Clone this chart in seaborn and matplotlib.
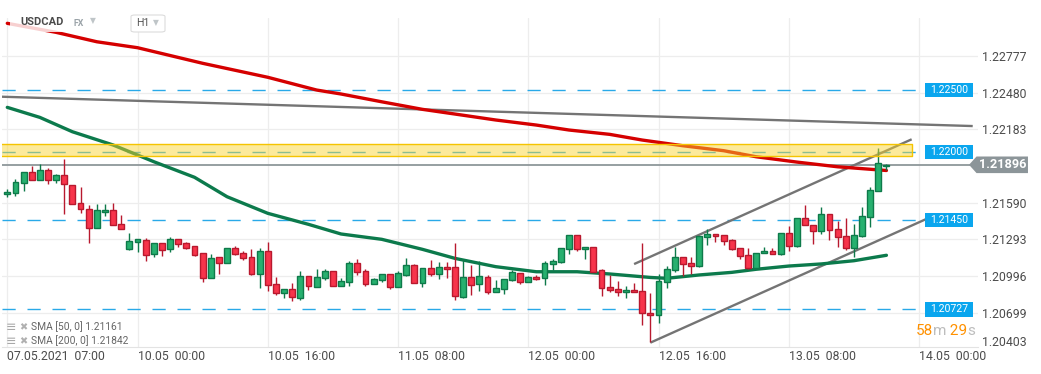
import numpy as np
import pandas as pd
import matplotlib
matplotlib.use("Agg")
import matplotlib.pyplot as plt
import matplotlib.transforms as mtransforms
from matplotlib.patches import Rectangle, Polygon, FancyBboxPatch
import seaborn as sns

# ---------------- data ----------------
opens = [1.21657, 1.21666, 1.21746, 1.21835, 1.21771, 1.21851, 1.21771, 1.21811, 1.21730, 1.21585,
         1.21536, 1.21383, 1.21512, 1.21528, 1.21415, 1.21213, 1.21270, 1.21286, 1.21173, 1.21262,
         1.21213, 1.21294, 1.21262, 1.21237, 1.21181, 1.20979, 1.21149, 1.21100, 1.21221, 1.21181,
         1.21149, 1.21011, 1.21197, 1.20930, 1.20858, 1.20890, 1.20817, 1.20995, 1.20906, 1.20979,
         1.21035, 1.20914, 1.20947, 1.21100, 1.21035, 1.20930, 1.20963, 1.21011, 1.20906, 1.21003,
         1.21084, 1.20939, 1.21060, 1.21011, 1.21068, 1.21068, 1.20825, 1.20987, 1.20930, 1.20987,
         1.20866, 1.20890, 1.20963, 1.21019, 1.20947, 1.20987, 1.20979, 1.21092, 1.21108, 1.21213,
         1.21326, 1.21213, 1.21229, 1.21044, 1.20906, 1.20890, 1.20866, 1.20882, 1.20874, 1.20696,
         1.20680, 1.20947, 1.21044, 1.21149, 1.21100, 1.21076, 1.21310, 1.21334, 1.21326, 1.21288,
         1.21224, 1.21165, 1.21060, 1.21181, 1.21197, 1.21173, 1.21342, 1.21237, 1.21464, 1.21407,
         1.21361, 1.21496, 1.21375, 1.21321, 1.21221, 1.21318, 1.21472, 1.21682, 1.21885]
highs = [1.21698, 1.21779, 1.21835, 1.21886, 1.21902, 1.21867, 1.21824, 1.21940, 1.21730, 1.21714,
         1.21569, 1.21577, 1.21577, 1.21585, 1.21488, 1.21342, 1.21294, 1.21302, 1.21262, 1.21262,
         1.21310, 1.21294, 1.21272, 1.21237, 1.21181, 1.21173, 1.21149, 1.21221, 1.21237, 1.21197,
         1.21213, 1.21221, 1.21270, 1.20987, 1.20890, 1.20939, 1.21035, 1.20995, 1.21052, 1.21052,
         1.21035, 1.20979, 1.21116, 1.21132, 1.21052, 1.20979, 1.21011, 1.21011, 1.21035, 1.21140,
         1.21092, 1.21060, 1.21124, 1.21108, 1.21108, 1.21262, 1.21132, 1.21084, 1.21116, 1.21003,
         1.20963, 1.20971, 1.21044, 1.21019, 1.20995, 1.21003, 1.21116, 1.21132, 1.21221, 1.21326,
         1.21326, 1.21229, 1.21229, 1.21052, 1.21003, 1.20955, 1.20914, 1.20939, 1.21262, 1.20858,
         1.21011, 1.21076, 1.21229, 1.21149, 1.21149, 1.21318, 1.21375, 1.21334, 1.21326, 1.21296,
         1.21224, 1.21224, 1.21181, 1.21232, 1.21224, 1.21342, 1.21401, 1.21464, 1.21569, 1.21407,
         1.21552, 1.21496, 1.21439, 1.21464, 1.21415, 1.21552, 1.21714, 1.22031, 1.21905]
lows = [1.21633, 1.21646, 1.21687, 1.21771, 1.21771, 1.21738, 1.21746, 1.21496, 1.21577, 1.21509,
        1.21266, 1.21383, 1.21480, 1.21407, 1.21375, 1.21205, 1.21189, 1.21116, 1.21149, 1.21157,
        1.21189, 1.21229, 1.21213, 1.21157, 1.20951, 1.20979, 1.21011, 1.21100, 1.21165, 1.21124,
        1.21003, 1.20898, 1.20879, 1.20842, 1.20817, 1.20798, 1.20801, 1.20882, 1.20906, 1.20963,
        1.20914, 1.20914, 1.20914, 1.21003, 1.20914, 1.20930, 1.20947, 1.20890, 1.20906, 1.20995,
        1.20939, 1.20906, 1.20995, 1.20971, 1.20979, 1.20801, 1.20817, 1.20842, 1.20874, 1.20850,
        1.20866, 1.20850, 1.20955, 1.20930, 1.20947, 1.20963, 1.20922, 1.21044, 1.21100, 1.21173,
        1.21197, 1.21132, 1.21027, 1.20838, 1.20866, 1.20834, 1.20817, 1.20866, 1.20599, 1.20462,
        1.20615, 1.20898, 1.21027, 1.20995, 1.21011, 1.21068, 1.21245, 1.21270, 1.21245, 1.21208,
        1.21135, 1.21052, 1.21060, 1.21181, 1.21173, 1.21165, 1.21197, 1.21229, 1.21407, 1.21254,
        1.21334, 1.21288, 1.21232, 1.21208, 1.21151, 1.21310, 1.21391, 1.21682, 1.21858]
closes = [1.21674, 1.21754, 1.21835, 1.21771, 1.21851, 1.21771, 1.21811, 1.21738, 1.21577, 1.21536,
          1.21383, 1.21528, 1.21528, 1.21407, 1.21375, 1.21278, 1.21294, 1.21165, 1.21262, 1.21205,
          1.21294, 1.21254, 1.21221, 1.21165, 1.20979, 1.21140, 1.21100, 1.21221, 1.21173, 1.21140,
          1.21011, 1.21197, 1.20922, 1.20858, 1.20890, 1.20825, 1.20995, 1.20914, 1.20987, 1.21035,
          1.20914, 1.20955, 1.21100, 1.21027, 1.20930, 1.20971, 1.21011, 1.20906, 1.21019, 1.21084,
          1.20939, 1.21060, 1.21011, 1.21068, 1.21052, 1.20834, 1.20987, 1.20922, 1.20995, 1.20866,
          1.20898, 1.20971, 1.21027, 1.20947, 1.20987, 1.20971, 1.21100, 1.21116, 1.21221, 1.21326,
          1.21213, 1.21229, 1.21027, 1.20898, 1.20882, 1.20866, 1.20882, 1.20866, 1.20696, 1.20680,
          1.20955, 1.21052, 1.21149, 1.21092, 1.21076, 1.21318, 1.21334, 1.21318, 1.21278, 1.21216,
          1.21157, 1.21060, 1.21181, 1.21197, 1.21173, 1.21342, 1.21237, 1.21464, 1.21407, 1.21361,
          1.21496, 1.21369, 1.21310, 1.21221, 1.21326, 1.21480, 1.21690, 1.21908, 1.21896]

sma50_idx = [0, 4, 8, 13, 18, 23, 27, 32, 37, 41, 46, 51, 55, 60, 65, 70, 74, 79, 81, 85, 89, 92, 96, 100, 104, 108]
sma50_val = [1.22360, 1.22279, 1.22163, 1.22056, 1.21921, 1.21795, 1.21638, 1.21504, 1.21415, 1.21337,
             1.21294, 1.21213, 1.21140, 1.21073, 1.21032, 1.21032, 1.21014, 1.20986, 1.20979, 1.21006,
             1.21027, 1.21052, 1.21078, 1.21095, 1.21121, 1.21165]
sma200_idx = [0, 6, 11, 16, 24, 32, 38, 41, 46, 51, 55, 60, 65, 69, 74, 78, 83, 88, 92, 97, 102, 108]
sma200_val = [1.23039, 1.22966, 1.22890, 1.22842, 1.22716, 1.22603, 1.22500, 1.22468, 1.22405, 1.22344,
              1.22306, 1.22258, 1.22217, 1.22177, 1.22142, 1.22096, 1.22050, 1.22010, 1.21961, 1.21918,
              1.21880, 1.21850]

price_levels = [1.22500, 1.22000, 1.21450, 1.20727]
price_level_labels = ["1.22500", "1.22000", "1.21450", "1.20727"]
current_price = 1.21896
zone_low, zone_high, zone_end = 1.21969, 1.22064, 111.1

trend_x = [-0.65, 118.6]
trend_y = [1.22446, 1.22209]
chan_low_x = [79.0, 113.1]
chan_low_y = [1.20459, 1.21464]
chan_up_x = [77.0, 111.1]
chan_up_y = [1.21094, 1.22102]

ytick_vals = [1.20699, 1.20996, 1.21293, 1.21590, 1.22183, 1.22480, 1.22777]
ytick_labels = ["1.20699", "1.20996", "1.21293", "1.21590", "1.22183", "1.22480", "1.22777"]
bottom_label = "1.20403"
xtick_idx = [0, 16, 32, 48, 64, 80, 96, 112]
xtick_labels = ["07.05.2021  07:00", "10.05  00:00", "10.05  16:00", "11.05  08:00",
                "12.05  00:00", "12.05  16:00", "13.05  08:00", "14.05  00:00"]
sma50_last, sma200_last = "1.21161", "1.21842"

# ---------------- style ----------------
sns.set_style("white")
plt.rcParams['font.family'] = ['Roboto', 'DejaVu Sans']

W, H = 1041, 374
fig = plt.figure(figsize=(W / 100, H / 100), dpi=100)
fig.patch.set_facecolor('white')
ax = fig.add_axes([2 / W, 27 / H, 976 / W, 329 / H])
ax.set_xlim(-0.65, 119.25)
ax.set_ylim(1.20424, 1.23082)

df = pd.DataFrame({'o': opens, 'h': highs, 'l': lows, 'c': closes})
df['idx'] = np.arange(len(df))
up = df['c'] >= df['o']

G_FILL, G_EDGE = '#27B06F', '#0E7A4A'
R_FILL, R_EDGE = '#F7344B', '#B8192E'

# grid
ax.set_yticks(ytick_vals)
ax.set_yticklabels(ytick_labels)
ax.set_xticks(xtick_idx)
ax.set_xticklabels(xtick_labels)
ax.grid(True, color='#EDEDED', lw=0.9, zorder=0)
ax.set_axisbelow(True)
for s in ['top', 'left', 'right']:
    ax.spines[s].set_visible(False)
ax.spines['bottom'].set_color('#E3E3E3')
ax.yaxis.tick_right()
ax.tick_params(axis='y', length=0, pad=3, labelsize=8.8, labelcolor='#4C4C4C')
ax.tick_params(axis='x', length=0, pad=2.5, labelsize=8.8, labelcolor='#4C4C4C')
for lbl in ax.get_xticklabels():
    lbl.set_ha('left')

blend = mtransforms.blended_transform_factory(ax.transAxes, ax.transData)

# horizontal price levels (dashed)
for p in price_levels:
    ax.plot([0, 0.942], [p, p], transform=blend, color='#29A9E8', lw=1.0,
            dashes=(9.5, 8.5), zorder=1)

# current price line
ax.axhline(current_price, color='#8E979A', lw=1.3, zorder=2)

# trend lines
for xs, ys in [(trend_x, trend_y), (chan_low_x, chan_low_y), (chan_up_x, chan_up_y)]:
    ax.plot(xs, ys, color='#747474', lw=1.7, zorder=3, solid_capstyle='butt')

# SMA lines via seaborn
d50 = pd.DataFrame({'idx': sma50_idx, 'v': sma50_val})
d200 = pd.DataFrame({'idx': sma200_idx, 'v': sma200_val})
sns.lineplot(data=d50, x='idx', y='v', ax=ax, color='#0C7A4C', lw=2.4, zorder=4, sort=True)
sns.lineplot(data=d200, x='idx', y='v', ax=ax, color='#D50000', lw=2.4, zorder=4, sort=True)
ax.set_xlabel('')
ax.set_ylabel('')

# candles
edge_cols = np.where(up, G_EDGE, R_EDGE)
fill_cols = np.where(up, G_FILL, R_FILL)
ax.vlines(df['idx'], df['l'], df['h'], colors=edge_cols, lw=1.0, zorder=5)
body_lo = np.minimum(df['o'], df['c'])
body_h = np.maximum(np.abs(df['c'] - df['o']), 0.000015)
ax.bar(df['idx'], body_h, bottom=body_lo, width=0.72, color=fill_cols,
       edgecolor=edge_cols, linewidth=1.0, zorder=6)

# resistance zone (on top, translucent)
ax.fill_between([-5, zone_end], zone_low, zone_high, color='#F9D42E', alpha=0.48,
                lw=0, zorder=7)
ax.plot([-5, zone_end, zone_end, -5], [zone_high, zone_high, zone_low, zone_low],
        color='#F5C400', lw=1.0, zorder=7)

# level labels
hh = 7.2 * (1.23082 - 1.20424) / 329
for p, t in zip(price_levels, price_level_labels):
    ax.add_patch(Rectangle((0.9457, p - hh), 0.0492, 2 * hh, transform=blend,
                           fc='#0AA6EE', ec='none', zorder=8, clip_on=False))
    ax.text(0.9703, p, t, transform=blend, ha='center', va='center',
            color='white', fontsize=7.6, zorder=9)

# current price label
h2 = 8.3 * (1.23082 - 1.20424) / 329
poly = Polygon([(0.9908, current_price), (0.9985, current_price + h2), (1.0512, current_price + h2),
                (1.0512, current_price - h2), (0.9985, current_price - h2)],
               closed=True, transform=blend, fc='#8C9599', ec='none', zorder=8, clip_on=False)
ax.add_patch(poly)
ax.text(1.0255, current_price, f"{current_price:.5f}", transform=blend, ha='center',
        va='center', color='white', fontsize=9.2, fontweight='bold', zorder=9, clip_on=False)

# bottom y label
ax.text(1.0 + 4 / 976, 5 / 329, bottom_label, transform=ax.transAxes, ha='left',
        va='center', color='#4C4C4C', fontsize=8.8)

# countdown
t1 = ax.text(915.5 / W, 1 - 335 / H, "58", transform=fig.transFigure, color='#FF9100',
             fontsize=11, va='baseline', zorder=9)
t2 = ax.annotate("m", xy=(1, 0), xycoords=t1, color='#BDBDBD', fontsize=11, va='bottom')
t3 = ax.annotate(" 29", xy=(1, 0), xycoords=t2, color='#FF9100', fontsize=11, va='bottom')
t4 = ax.annotate("s", xy=(1, 0), xycoords=t3, color='#BDBDBD', fontsize=11, va='bottom')

# header (with translucent backing)
fig.patches.append(Rectangle((10 / W, 1 - 32 / H), 160 / W, 20 / H, transform=fig.transFigure,
                             fc='white', ec='none', alpha=0.82, zorder=10))
fig.text(20 / W, 1 - 22 / H, "USDCAD", fontsize=8, fontweight='bold', color='#4A4A4A',
         va='center', zorder=11)
fig.text(74 / W, 1 - 23 / H, "FX", fontsize=6.3, fontweight='bold', color='#9AA3A8',
         va='center', zorder=11)
fig.text(90 / W, 1 - 20.5 / H, "▼", fontsize=5.5, color='#BFC5C8', va='center',
         family='DejaVu Sans', zorder=11)
fig.patches.append(FancyBboxPatch((131 / W, 1 - 32 / H), 34 / W, 17 / H,
                                  boxstyle='round,pad=0,rounding_size=0.004',
                                  transform=fig.transFigure, fc='white', ec='#DCDCDC',
                                  lw=0.8, zorder=11))
fig.text(136 / W, 1 - 23.5 / H, "H1", fontsize=7.6, color='#555555', va='center', zorder=12)
fig.text(153 / W, 1 - 22.5 / H, "▼", fontsize=5.5, color='#BFC5C8', va='center',
         family='DejaVu Sans', zorder=12)

# SMA legend
for yy, name, val in [(327, "SMA [50, 0]", sma50_last), (341, "SMA [200, 0]", sma200_last)]:
    fig.text(6 / W, 1 - yy / H, "≡", fontsize=9, color='#A8A8A8', va='center',
             family='DejaVu Sans')
    fig.text(19 / W, 1 - yy / H, "✖", fontsize=7, color='#B0B0B0', va='center',
             family='DejaVu Sans')
    fig.text(31 / W, 1 - yy / H, f"{name} {val}", fontsize=7.4, color='#666666', va='center')

fig.savefig("out.png", dpi=100, facecolor='white')
